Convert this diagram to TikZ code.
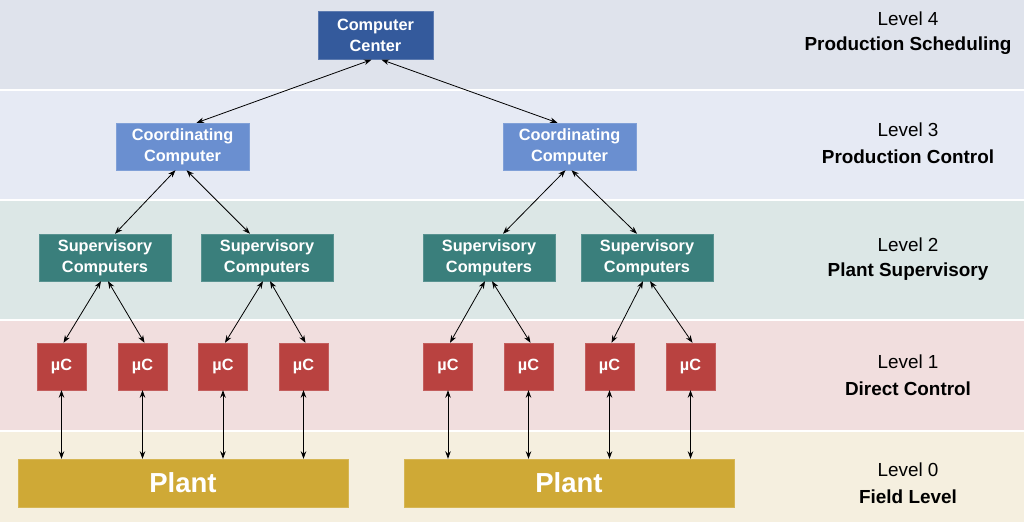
\documentclass[tikz,border=0pt]{standalone}
\usepackage{fontspec}
\setmainfont{Liberation Sans}
\usepackage{tikz}
\usetikzlibrary{calc}
\usetikzlibrary{arrows.meta}

\definecolor{bandfour}{HTML}{DFE3EC}
\definecolor{bandthree}{HTML}{E6EAF4}
\definecolor{bandtwo}{HTML}{DCE7E6}
\definecolor{bandone}{HTML}{F1DEDE}
\definecolor{bandzero}{HTML}{F5EFDF}
\definecolor{ccblue}{HTML}{345A9C}
\definecolor{coordblue}{HTML}{6A8FD0}
\definecolor{supteal}{HTML}{3A7F7C}
\definecolor{ucred}{HTML}{B94240}
\definecolor{plantgold}{HTML}{CFA936}

\begin{document}
\begin{tikzpicture}[x=1bp,y=-1bp,
    >={Stealth[length=7.5bp,width=5.5bp]},
    box/.style={inner sep=0pt,align=center,text=white,
        font=\fontsize{16.3bp}{21bp}\selectfont\bfseries},
    link/.style={<->,line width=0.8bp,black},
    lvl/.style={font=\fontsize{18.9bp}{22bp}\selectfont},
    lvlname/.style={font=\fontsize{18.9bp}{22bp}\selectfont\bfseries}]
  \useasboundingbox (0,0) rectangle (1024,522);
  % level bands
  \foreach \ya/\yb/\c in {0/90/bandfour,90/200/bandthree,200/320/bandtwo,
      320/431/bandone,431/522/bandzero} {
      \fill[\c] (0,\ya) rectangle (1024,\yb);
    }
  \foreach \y in {90,200,320,431} {
      \draw[white,line width=1.6bp] (0,\y) -- (1024,\y);
    }
  % level names
  \foreach \n/\y/\t in {4/19/Production Scheduling,3/130/Production Control,
      2/245/Plant Supervisory,1/362/Direct Control,0/470/Field Level} {
      \node[lvl] (level\n) at (908,\y) {Level \n};
      \node[lvlname] (name\n) at (908,\y+27) {\t};
    }
  % computers
  \node[box,fill=ccblue,draw=ccblue!80!white,minimum width=115bp,
    minimum height=48bp] (cc) at (375.5,35.5) {Computer\\Center};
  \foreach \c/\x in {coordA/182.5,coordB/569.5} {
      \node[box,fill=coordblue,draw=coordblue!85!white,minimum width=133bp,
        minimum height=47bp] (\c) at (\x,146.5) {Coordinating\\Computer};
    }
  \foreach \i/\x in {1/105,2/267,3/489,4/647} {
      \node[box,fill=supteal,draw=supteal!85!white,minimum width=132bp,
        minimum height=47bp] (sup\i) at (\x,257.5) {Supervisory\\Computers};
    }
  \foreach \i/\x in {1/61.5,2/142.5,3/223,4/303.5,5/448,6/528.5,7/609.5,8/690.5} {
      \node[box,fill=ucred,draw=ucred!85!white,minimum width=49bp,
        minimum height=47bp] (uc\i) at (\x,366.5) {µC};
    }
  \foreach \p/\x in {plantA/183,plantB/569} {
      \node[box,fill=plantgold,draw=plantgold!85!white,minimum width=330bp,
        minimum height=48bp,font=\fontsize{27.5bp}{32bp}\selectfont\bfseries]
        (\p) at (\x,483) {Plant};
    }
  % links
  \draw[link] ([xshift=-4bp]cc.south) -- ([xshift=14bp]coordA.north);
  \draw[link] ([xshift=6bp]cc.south) -- ([xshift=-12bp]coordB.north);
  \foreach \c/\s/\a/\b in {coordA/sup1/-7/10,coordA/sup2/4/-17,
      coordB/sup3/-4/14,coordB/sup4/2/-10} {
      \draw[link] ([xshift=\a bp]\c.south) -- ([xshift=\b bp]\s.north);
    }
  \foreach \s/\u/\a in {sup1/uc1/-4,sup1/uc2/3,sup2/uc3/-4,sup2/uc4/3,
      sup3/uc5/-4,sup3/uc6/3,sup4/uc7/-4,sup4/uc8/3} {
      \draw[link] ([xshift=\a bp]\s.south) -- ([xshift=2bp]\u.north);
    }
  \foreach \i/\p in {1/plantA,2/plantA,3/plantA,4/plantA,
      5/plantB,6/plantB,7/plantB,8/plantB} {
      \draw[link] (uc\i.south) -- (uc\i.south |- \p.north);
    }
\end{tikzpicture}
\end{document}
